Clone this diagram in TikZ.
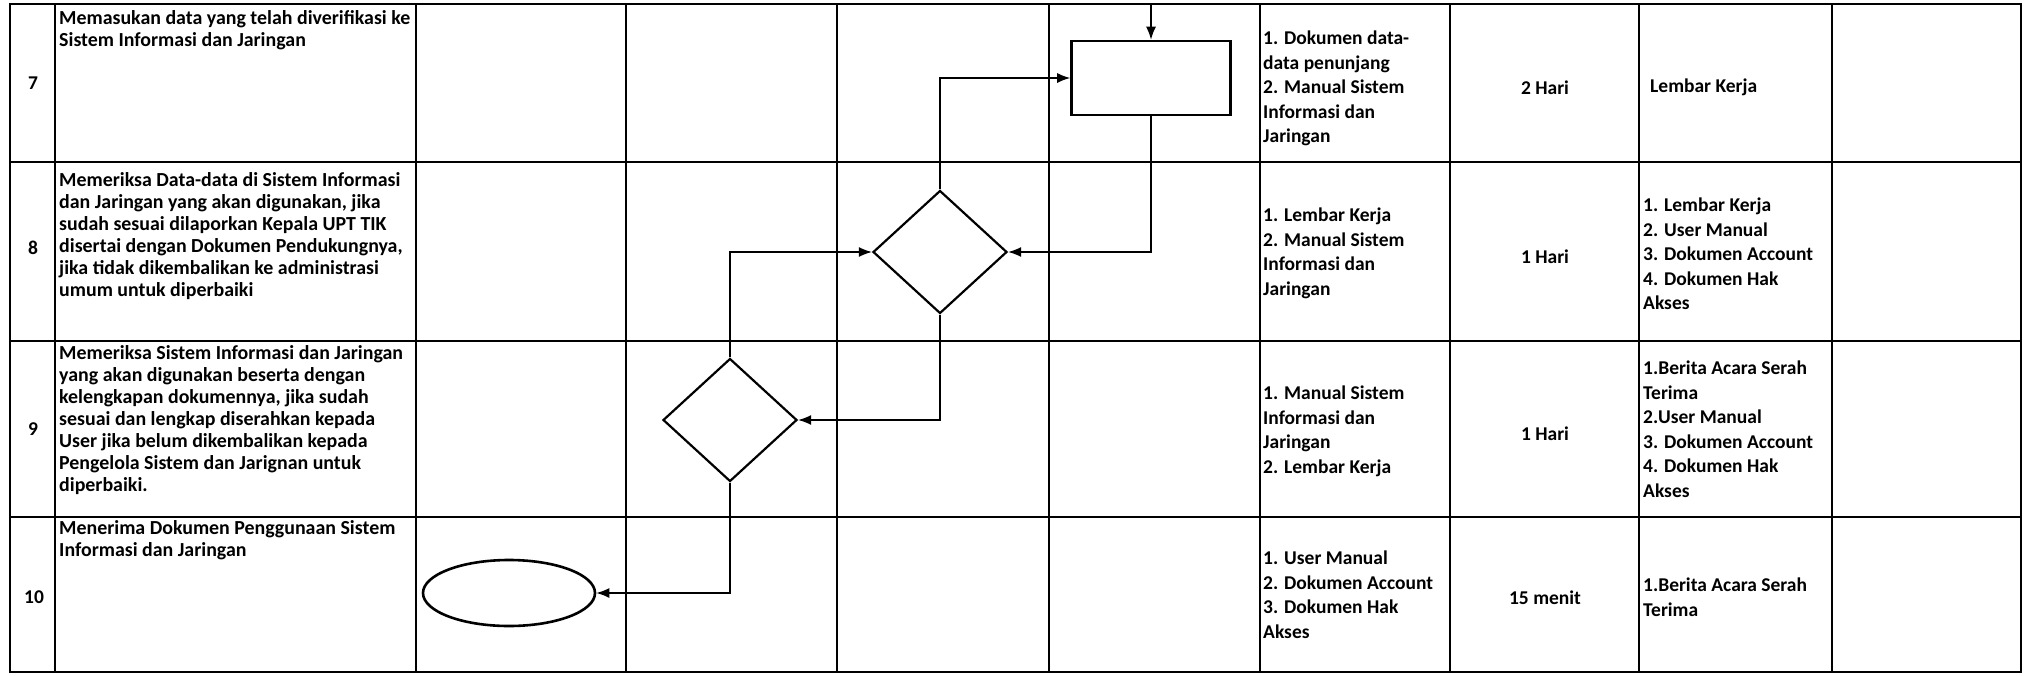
\documentclass[tikz,border=0pt]{standalone}
\usepackage{fontspec}
\setmainfont{Carlito}
\usetikzlibrary{shapes.geometric, arrows.meta, positioning}

\begin{document}
\begin{tikzpicture}[
  x=1pt, y=-1pt,
  font=\fontsize{19.5}{24.5}\selectfont\bfseries,
  garis/.style={line width=2.8pt, line cap=rect},
  uraian/.style={anchor=north west, align=left, inner sep=0pt, font=\fontsize{19.9}{22}\selectfont\bfseries},
  daftar/.style={anchor=north west, align=left, inner sep=0pt},
  isian/.style={inner sep=0pt},
  proses/.style={rectangle, draw, line width=2.6pt, minimum width=159pt, minimum height=74pt},
  keputusan/.style={diamond, draw, line width=2.2pt, minimum width=134pt, minimum height=123pt, inner sep=0pt},
  terminal/.style={ellipse, draw, line width=2.6pt, minimum width=172pt, minimum height=66pt},
  panah/.style={line width=1.4pt, -{Latex[length=13pt, width=10pt]}}
]
\useasboundingbox (0,0) rectangle (2024,675);

% Table
\foreach \x in {10,55,416,626,837,1049,1260,1450,1639,1832,2021}
  \draw[garis] (\x,4) -- (\x,672);
\foreach \y in {4,162,341,517,672}
  \draw[garis] (10,\y) -- (2021,\y);

% Nomor
\node[isian] (no7) at (33,83) {7};
\node[isian] (no8) at (33,248) {8};
\node[isian] (no9) at (33,429) {9};
\node[isian] (no10) at (34,597) {10};

% Uraian kegiatan
\node[uraian] (ur7) at (59,9) {\strut Memasukan data yang telah diverifikasi ke\\Sistem Informasi dan Jaringan};
\node[uraian] (ur8) at (59,171) {\strut Memeriksa Data-data di Sistem Informasi\\dan Jaringan yang akan digunakan, jika\\sudah sesuai dilaporkan Kepala UPT TIK\\disertai dengan Dokumen Pendukungnya,\\jika tidak dikembalikan ke administrasi\\umum untuk diperbaiki};
\node[uraian] (ur9) at (59,344) {\strut Memeriksa Sistem Informasi dan Jaringan\\yang akan digunakan beserta dengan\\kelengkapan dokumennya, jika sudah\\sesuai dan lengkap diserahkan kepada\\User jika belum dikembalikan kepada\\Pengelola Sistem dan Jarignan untuk\\diperbaiki.};
\node[uraian] (ur10) at (59,519) {\strut Menerima Dokumen Penggunaan Sistem\\Informasi dan Jaringan};

% Kelengkapan
\node[daftar] (kl7) at (1263,27.4) {\strut 1. Dokumen data-\\data penunjang\\2. Manual Sistem\\Informasi dan\\Jaringan};
\node[daftar] (kl8) at (1263,204.4) {\strut 1. Lembar Kerja\\2. Manual Sistem\\Informasi dan\\Jaringan};
\node[daftar] (kl9) at (1263,382.4) {\strut 1. Manual Sistem\\Informasi dan\\Jaringan\\2. Lembar Kerja};
\node[daftar] (kl10) at (1263,547.4) {\strut 1. User Manual\\2. Dokumen Account\\3. Dokumen Hak\\Akses};

% Waktu
\node[isian] (wk7) at (1545,88) {2 Hari};
\node[isian] (wk8) at (1545,257) {1 Hari};
\node[isian] (wk9) at (1545,434) {1 Hari};
\node[isian] (wk10) at (1545,598) {15 menit};

% Output
\node[daftar] (out7) at (1650,75.4) {\strut Lembar Kerja};
\node[daftar] (out8) at (1643,194.4) {\strut 1. Lembar Kerja\\2. User Manual\\3. Dokumen Account\\4. Dokumen Hak\\Akses};
\node[daftar] (out9) at (1643,357.4) {\strut 1.Berita Acara Serah\\Terima\\2.User Manual\\3. Dokumen Account\\4. Dokumen Hak\\Akses};
\node[daftar] (out10) at (1643,574.4) {\strut 1.Berita Acara Serah\\Terima};

% Flowchart
\coordinate (masuk) at (1151,4);
\node[proses] (input) at (1151,78) {};
\node[keputusan] (cek1) at (940,252) {};
\node[keputusan] (cek2) at (730,420) {};
\node[terminal] (selesai) at (509,593) {};

% Arrows
\draw[panah] (masuk) -- (input.north);
\draw[panah] (input.south) |- (cek1.east);
\draw[panah] (cek1.north) |- (input.west);
\draw[panah] (cek1.south) |- (cek2.east);
\draw[panah] (cek2.north) |- (cek1.west);
\draw[panah] (cek2.south) |- (selesai.east);

\end{tikzpicture}
\end{document}
